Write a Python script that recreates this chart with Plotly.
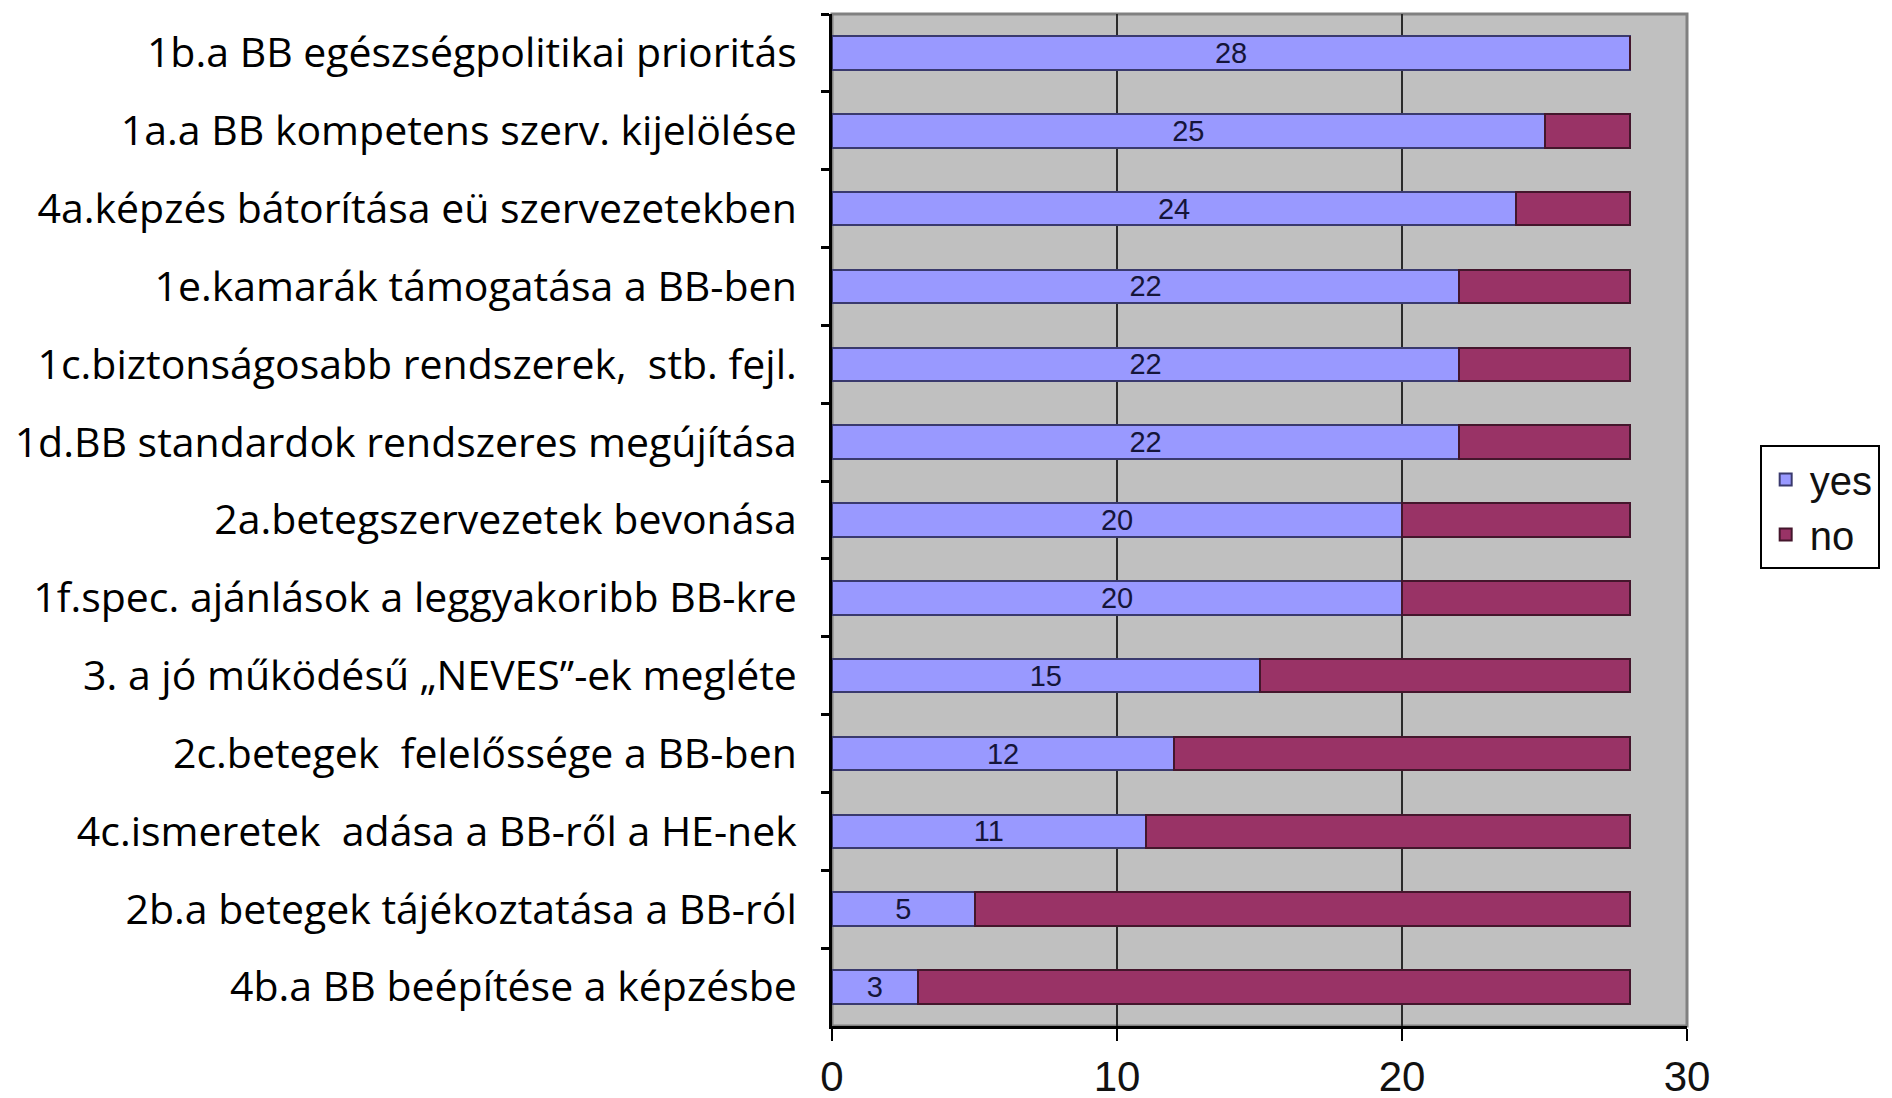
import plotly.graph_objects as go

categories = [
    "1b.a BB egészségpolitikai prioritás",
    "1a.a BB kompetens szerv. kijelölése",
    "4a.képzés bátorítása eü szervezetekben",
    "1e.kamarák támogatása a BB-ben",
    "1c.biztonságosabb rendszerek,  stb. fejl.",
    "1d.BB standardok rendszeres megújítása",
    "2a.betegszervezetek bevonása",
    "1f.spec. ajánlások a leggyakoribb BB-kre",
    "3. a jó működésű „NEVES”-ek megléte",
    "2c.betegek  felelőssége a BB-ben",
    "4c.ismeretek  adása a BB-ről a HE-nek",
    "2b.a betegek tájékoztatása a BB-ról",
    "4b.a BB beépítése a képzésbe",
]
yes_values = [28, 25, 24, 22, 22, 22, 20, 20, 15, 12, 11, 5, 3]
no_values = [0, 3, 4, 6, 6, 6, 8, 8, 13, 16, 17, 23, 25]
x_ticks = [0, 10, 20, 30]

fig = go.Figure()
fig.add_trace(go.Bar(
    y=categories, x=yes_values, orientation="h", name="yes",
    marker=dict(color="#9999FF", line=dict(color="#3a3a6e", width=2)),
    text=[str(v) for v in yes_values], textposition="inside",
    insidetextanchor="middle", textangle=0, constraintext="none",
    textfont=dict(family="Liberation Sans Narrow, Liberation Sans, Arial", size=29, color="#15153a"),
    legendgroup="yes",
))
fig.add_trace(go.Bar(
    y=categories, x=no_values, orientation="h", name="no",
    marker=dict(color="#993366", line=dict(color="#44162c", width=2)),
    legendgroup="no",
))

fig.update_layout(
    barmode="stack",
    bargap=0.57,
    width=1892, height=1098,
    margin=dict(l=824, r=213, t=6, b=72),
    paper_bgcolor="white",
    plot_bgcolor="#C0C0C0",
    showlegend=True,
    legend=dict(
        x=1.085, y=0.574, xanchor="left", yanchor="top",
        bgcolor="white", bordercolor="black", borderwidth=2,
        font=dict(family="Liberation Sans Narrow, Liberation Sans, Arial", size=40, color="#111"),
        tracegroupgap=40, traceorder="normal",
        itemwidth=38,
    ),
    shapes=[dict(type="rect", xref="paper", yref="paper", x0=0, x1=1, y0=0, y1=1,
                 line=dict(color="#808080", width=3), layer="below")],
)
fig.update_xaxes(
    range=[0, 30], tickvals=x_ticks, ticktext=[str(t) for t in x_ticks],
    showgrid=True, gridcolor="#2a2a2a", gridwidth=2,
    showline=True, linecolor="black", linewidth=3,
    ticks="outside", ticklen=12, tickcolor="black", tickwidth=2,
    tickfont=dict(family="Liberation Sans Narrow, Liberation Sans, Arial", size=42, color="#111"),
    zeroline=False,
)
fig.update_yaxes(
    categoryorder="array", categoryarray=categories, autorange="reversed",
    showline=True, linecolor="black", linewidth=3,
    ticks="outside", ticklen=8, tickcolor="black", tickwidth=3,
    tickson="boundaries",
    ticklabelstandoff=24,
    tickfont=dict(family="Open Sans, Noto Sans, sans-serif", size=41, color="black"),
    showgrid=False,
)
fig.write_html("out.html")
